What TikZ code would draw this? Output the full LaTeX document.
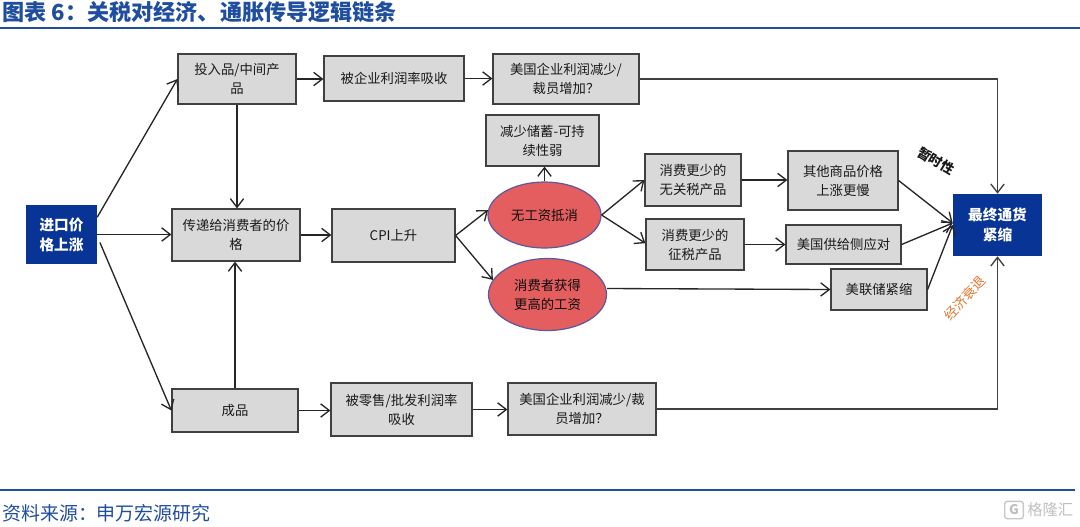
\documentclass[tikz,border=0pt]{standalone}
\usepackage{fontspec}
\setmainfont{Noto Sans CJK SC}
\usepackage{xcolor}
\usepackage{tikz}
\usetikzlibrary{arrows.meta}
\usetikzlibrary{shapes.geometric}
\definecolor{headblue}{RGB}{31,78,158}
\definecolor{deepblue}{RGB}{8,52,150}
\definecolor{boxgrey}{RGB}{217,217,217}
\definecolor{linegrey}{RGB}{64,64,64}
\definecolor{ovalred}{RGB}{228,94,96}
\definecolor{ovaledge}{RGB}{92,88,156}
\definecolor{orangelabel}{RGB}{222,118,48}
\tikzset{
  boxtext/.style={font=\fontsize{10}{14.25}\selectfont,align=center,inner sep=0pt},
  greybox/.style={boxtext,draw=linegrey,fill=boxgrey,line width=0.9pt,text=black!90},
  bluebox/.style={boxtext,fill=deepblue,text=white,font=\fontsize{11}{15}\selectfont\bfseries},
  redoval/.style={boxtext,ellipse,draw=ovaledge,fill=ovalred,line width=0.9pt,text=black!95},
  flowline/.style={draw=black!85,line width=1pt,-{Straight Barb[length=6.5pt,width=10pt,line width=1pt]}},
  sideline/.style={draw=linegrey,line width=1.1pt,line cap=rect}
}
\begin{document}
\begin{tikzpicture}[x=0.75pt,y=0.75pt,yscale=-1,xscale=1]
\useasboundingbox (0,0) rectangle (1080,526);

%Header and footer
\node (titletext) [anchor=west,inner sep=0pt,text=headblue,font=\fontsize{16.6}{18}\selectfont\bfseries] at (2,12) {图表 6：关税对经济、通胀传导逻辑链条};
\coordinate (titleleft) at (0,27.5);
\coordinate (titleright) at (1080,27.5);
\draw [headblue,line width=1.5pt] (titleleft) -- (titleright);
\coordinate (footleft) at (0,490);
\coordinate (footright) at (1075,490);
\draw [headblue,line width=1.5pt] (footleft) -- (footright);
\node (sourcetext) [anchor=west,inner sep=0pt,text=headblue,font=\fontsize{14.2}{16}\selectfont] at (2,513) {资料来源：申万宏源研究};
\node (marklogo) [draw=black!22,rounded corners=2pt,line width=1pt,minimum width=14pt,minimum height=13pt,inner sep=0pt,text=black!25,font=\fontsize{10}{10}\selectfont\bfseries] at (1014,510) {G};
\node (marktext) [anchor=west,inner sep=0pt,text=black!25,font=\fontsize{11.5}{12}\selectfont] at (1027,510) {格隆汇};

%Boxes
\node (importbox) [bluebox,minimum width=71*0.75pt,minimum height=59*0.75pt] at (61.5,234.5) {进口价\\格上涨};
\node (inputbox) [greybox,minimum width=118*0.75pt,minimum height=50*0.75pt] at (237,79) {投入品/中间产\\品};
\node (marginbox) [greybox,minimum width=140*0.75pt,minimum height=45*0.75pt] at (394,78.5) {被企业利润率吸收};
\node (profittop) [greybox,minimum width=146*0.75pt,minimum height=50*0.75pt] at (566,79) {美国企业利润减少/\\裁员增加？};
\node (savingbox) [greybox,minimum width=113*0.75pt,minimum height=51*0.75pt] at (542.5,140.5) {减少储蓄-可持\\续性弱};
\node (passbox) [greybox,minimum width=128*0.75pt,minimum height=52*0.75pt] at (236,235) {传递给消费者的价\\格};
\node (cpibox) [greybox,minimum width=123*0.75pt,minimum height=53*0.75pt] at (393.5,235.5) {CPI上升};
\node (nowage) [redoval,minimum width=113*0.75pt,minimum height=66*0.75pt] at (544.5,215) {无工资抵消};
\node (highwage) [redoval,minimum width=118*0.75pt,minimum height=72*0.75pt] at (547.5,294.5) {消费者获得\\更高的工资};
\node (freebox) [greybox,minimum width=96*0.75pt,minimum height=52*0.75pt] at (693,180) {消费更少的\\无关税产品};
\node (taxbox) [greybox,minimum width=98*0.75pt,minimum height=51*0.75pt] at (695,244.5) {消费更少的\\征税产品};
\node (otherbox) [greybox,minimum width=110*0.75pt,minimum height=59*0.75pt] at (843,180.5) {其他商品价格\\上涨更慢};
\node (supplybox) [greybox,minimum width=115*0.75pt,minimum height=39*0.75pt] at (843.5,244.5) {美国供给侧应对};
\node (fedbox) [greybox,minimum width=96*0.75pt,minimum height=41*0.75pt] at (879,289.5) {美联储紧缩};
\node (finalbox) [bluebox,minimum width=89*0.75pt,minimum height=62*0.75pt] at (997.5,225) {最终通货\\紧缩};
\node (goodsbox) [greybox,minimum width=126*0.75pt,minimum height=43*0.75pt] at (235,410.5) {成品};
\node (retailbox) [greybox,minimum width=141*0.75pt,minimum height=53*0.75pt] at (401.5,409.5) {被零售/批发利润率\\吸收};
\node (profitlow) [greybox,minimum width=148*0.75pt,minimum height=52*0.75pt] at (582,409) {美国企业利润减少/裁\\员增加？};

%Side labels
\node (shortlabel) [inner sep=0pt,rotate=-31,text=black!90,font=\fontsize{10}{12}\selectfont\bfseries] at (936,161) {暂时性};
\node (recesslabel) [inner sep=0pt,rotate=47,text=orangelabel,font=\fontsize{10}{12}\selectfont] at (965,298) {经济衰退};

%Arrows
\draw [flowline] ([yshift=-13pt]importbox.east) -- (inputbox.west);
\draw [flowline] (importbox.east) -- (passbox.west |- importbox.east);
\draw [flowline] ([xshift=2pt,yshift=6pt]importbox.east) -- (goodsbox.west);
\draw [flowline] (inputbox.south) -- (passbox.north -| inputbox.south);
\draw [flowline] (goodsbox.north) -- (passbox.south -| goodsbox.north);
\draw [flowline] (inputbox.east) -- (marginbox.west |- inputbox.east);
\draw [flowline] (marginbox.east) -- (profittop.west |- marginbox.east);
\draw [flowline] (passbox.east) -- (cpibox.west |- passbox.east);
\draw [flowline] (cpibox.east) -- (nowage.175);
\draw [flowline] (cpibox.east) -- (highwage.165);
\draw [flowline] (nowage.north) -- (savingbox.south -| nowage.north);
\draw [flowline] (nowage.east) -- (freebox.west);
\draw [flowline] (nowage.east) -- ([yshift=-1pt]taxbox.west);
\draw [flowline] (freebox.east) -- (otherbox.west |- freebox.east);
\draw [flowline] (taxbox.east) -- (supplybox.west |- taxbox.east);
\draw [flowline] ([yshift=-4.5pt]highwage.east) -- (fedbox.west);
\draw [flowline] (otherbox.east) -- ([yshift=-1.5pt]finalbox.west);
\draw [flowline] (supplybox.east) -- ([yshift=-1.5pt]finalbox.west);
\draw [flowline] (fedbox.east) -- (finalbox.west);
\draw [flowline] (goodsbox.east) -- (retailbox.west |- goodsbox.east);
\draw [flowline] (retailbox.east) -- (profitlow.west |- retailbox.east);
\draw [sideline] (profittop.east) -- (finalbox.north |- profittop.east);
\draw [flowline,draw=linegrey] (finalbox.north |- profittop.east) -- (finalbox.north);
\draw [sideline] (profitlow.east) -- (finalbox.south |- profitlow.east);
\draw [flowline,draw=linegrey] (finalbox.south |- profitlow.east) -- (finalbox.south);

\end{tikzpicture}
\end{document}
